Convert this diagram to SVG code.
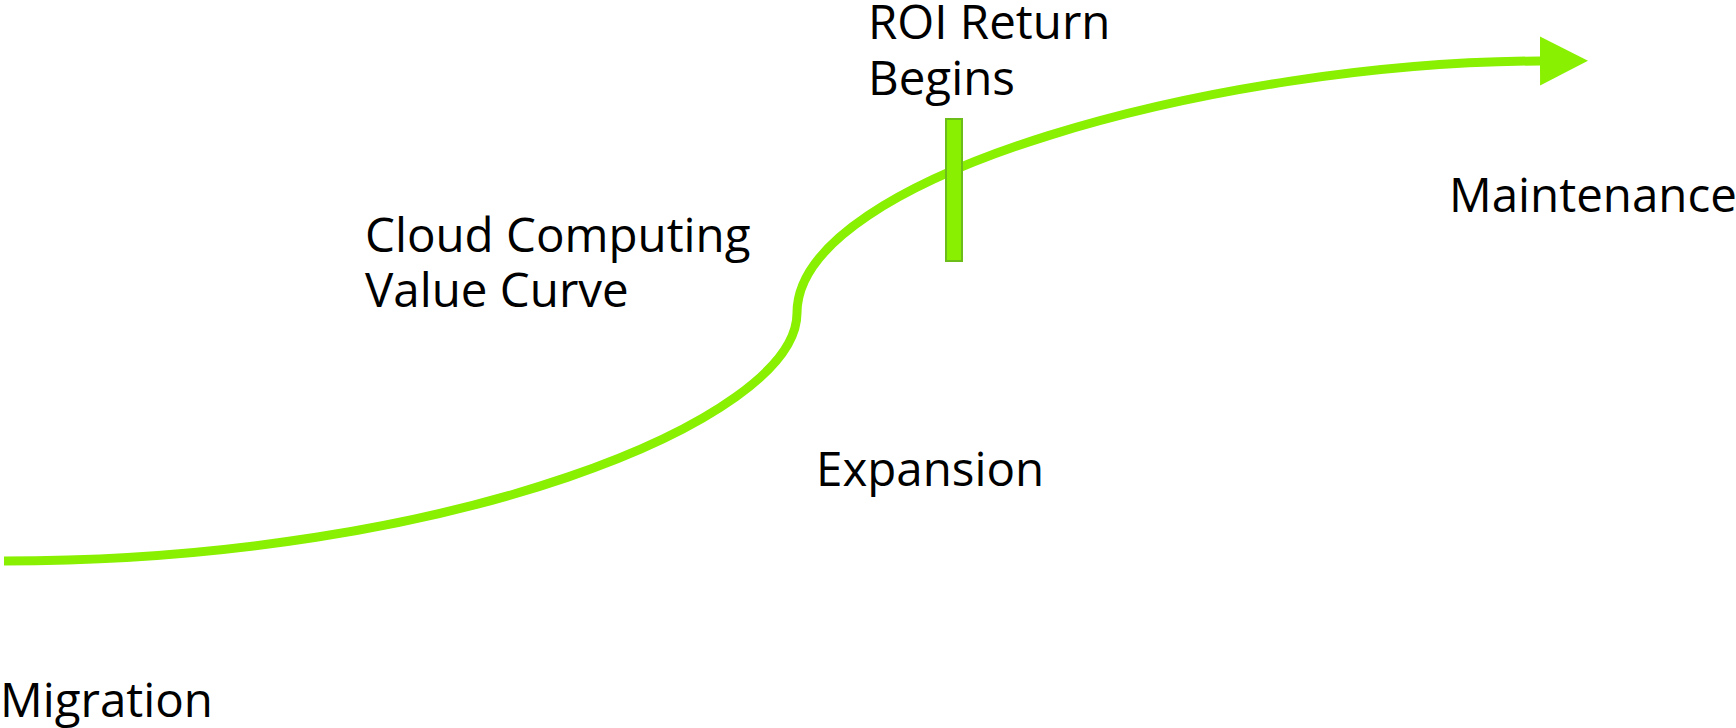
<svg xmlns="http://www.w3.org/2000/svg" width="1736" height="728" viewBox="0 0 1736 728">
<style>
.lbl{font-family:"Open Sans","Liberation Sans",sans-serif;font-size:47.5px;fill:#000}
.curve{fill:none;stroke:#88f000;stroke-width:9}
</style>
<defs>
<marker id="ah" markerUnits="userSpaceOnUse" markerWidth="50" markerHeight="50" refX="0" refY="25" orient="auto">
<path d="M0,0.5 L48,25 L0,49.5 Z" fill="#88f000"/>
</marker>
</defs>
<rect width="1736" height="728" fill="#fff"/>
<g id="connectors">
<path class="curve" d="M4,561 C450,561 797,420 797,313 C797,175 1220,62 1540,61" marker-end="url(#ah)"/>
</g>
<g id="roi-marker">
<rect x="946" y="119" width="16" height="142" fill="#88f000" stroke="#6cbc1a" stroke-width="2"/>
</g>
<g id="title">
<text class="lbl" x="365" y="252">Cloud Computing</text>
<text class="lbl" x="365" y="307">Value Curve</text>
</g>
<g id="roi">
<text class="lbl" x="868" y="39">ROI Return</text>
<text class="lbl" x="868" y="95">Begins</text>
</g>
<g id="migration"><text class="lbl" x="0" y="717">Migration</text></g>
<g id="expansion"><text class="lbl" x="816" y="486">Expansion</text></g>
<g id="maintenance"><text class="lbl" x="1449" y="212">Maintenance</text></g>
</svg>
